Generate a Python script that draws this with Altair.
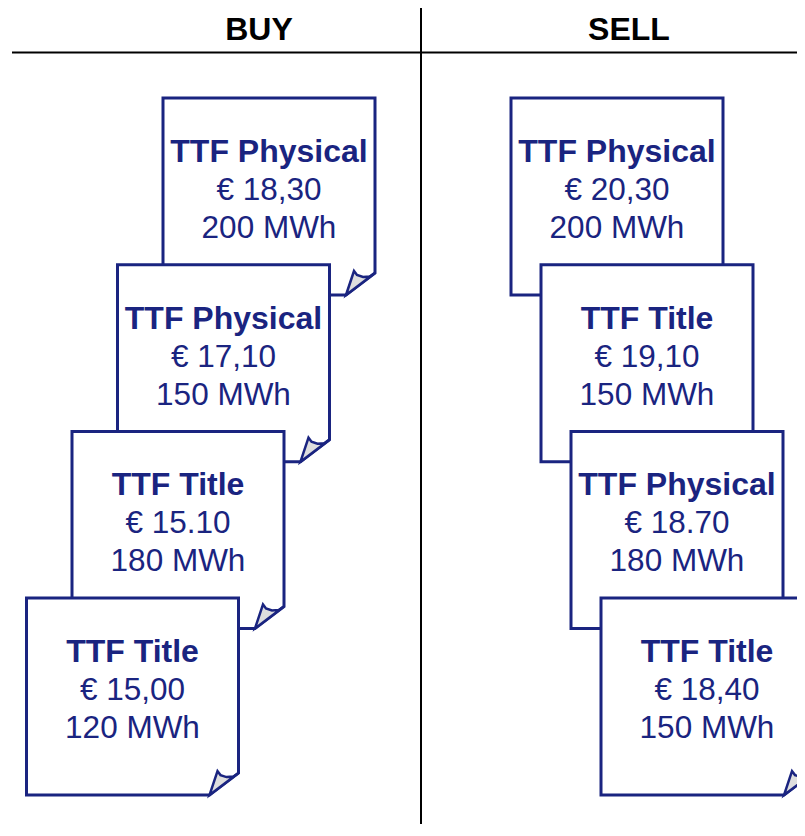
import altair as alt
import pandas as pd

# ---- data ----
sides = ["BUY", "SELL"]
buy_products = ["TTF Physical", "TTF Physical", "TTF Title", "TTF Title"]
buy_prices = ["€ 18,30", "€ 17,10", "€ 15.10", "€ 15,00"]
buy_volumes = ["200 MWh", "150 MWh", "180 MWh", "120 MWh"]
sell_products = ["TTF Physical", "TTF Title", "TTF Physical", "TTF Title"]
sell_prices = ["€ 20,30", "€ 19,10", "€ 18.70", "€ 18,40"]
sell_volumes = ["200 MWh", "150 MWh", "180 MWh", "150 MWh"]

# ---- layout (pixel space of the page) ----
NAVY = "#1a2480"
FONT = "Liberation Sans"
W, H = 789, 816
CARD_W, CARD_H = 212, 197
CUT_X, CUT_Y = 29, 22
ROW_DY = 166.7
layout = {
    "BUY": dict(left=163, top=98, dx=-45.5),
    "SELL": dict(left=511, top=98, dx=30.0),
}

xs = alt.Scale(domain=[8, 8 + W], range=[0, W])
ys = alt.Scale(domain=[8, 8 + H], range=[0, H])


def poly_layer(pts, fill, sw):
    df = pd.DataFrame({"x": [p[0] for p in pts], "y": [p[1] for p in pts],
                       "o": list(range(len(pts)))})
    return alt.Chart(df).mark_line(
        interpolate="linear-closed", fill=fill, stroke=NAVY, strokeWidth=sw,
        strokeJoin="miter", clip=True
    ).encode(
        x=alt.X("x:Q", scale=xs, axis=None),
        y=alt.Y("y:Q", scale=ys, axis=None),
        order="o:Q",
    )


layers = []
texts = []
cards = {
    "BUY": (buy_products, buy_prices, buy_volumes),
    "SELL": (sell_products, sell_prices, sell_volumes),
}
for side in sides:
    prods, prices, vols = cards[side]
    lay = layout[side]
    for i in range(len(prods)):
        L = lay["left"] + i * lay["dx"]
        T = lay["top"] + i * ROW_DY
        R, B = L + CARD_W, T + CARD_H
        body = [(L, T), (R, T), (R, B - CUT_Y), (R - CUT_X, B), (L, B)]
        fold = [(R - CUT_X, B), (R - 21, B - 24), (R - 18, B - 20),
                (R - 12, B - 18), (R - 5, B - 18.5), (R, B - CUT_Y)]
        layers.append(poly_layer(body, "white", 3))
        layers.append(poly_layer(fold, "#dedede", 2.5))
        cx = L + CARD_W / 2
        texts.append(dict(x=cx, y=T + 64, t=prods[i], w="bold"))
        texts.append(dict(x=cx, y=T + 102, t=prices[i], w="normal"))
        texts.append(dict(x=cx, y=T + 140, t=vols[i], w="normal"))

tdf = pd.DataFrame(texts)
for wt, fs in [("bold", 32), ("normal", 31.5)]:
    layers.append(
        alt.Chart(tdf[tdf.w == wt]).mark_text(
            font=FONT, fontSize=fs, fontWeight=wt, color=NAVY,
            align="center", baseline="alphabetic", clip=True
        ).encode(
            x=alt.X("x:Q", scale=xs, axis=None),
            y=alt.Y("y:Q", scale=ys, axis=None),
            text="t:N",
        )
    )

# headers
hdf = pd.DataFrame({"x": [259, 629], "y": [39.5, 39.5], "t": sides})
layers.append(
    alt.Chart(hdf).mark_text(
        font=FONT, fontSize=32, fontWeight="bold", color="black",
        align="center", baseline="alphabetic"
    ).encode(
        x=alt.X("x:Q", scale=xs, axis=None),
        y=alt.Y("y:Q", scale=ys, axis=None),
        text="t:N",
    )
)

# divider lines
hl = pd.DataFrame({"x": [12], "x2": [8 + W], "y": [52.5]})
layers.append(
    alt.Chart(hl).mark_rule(color="black", strokeWidth=2).encode(
        x=alt.X("x:Q", scale=xs, axis=None), x2="x2:Q",
        y=alt.Y("y:Q", scale=ys, axis=None),
    )
)
vl = pd.DataFrame({"x": [421], "y": [8], "y2": [8 + H]})
layers.append(
    alt.Chart(vl).mark_rule(color="black", strokeWidth=2).encode(
        x=alt.X("x:Q", scale=xs, axis=None),
        y=alt.Y("y:Q", scale=ys, axis=None), y2="y2:Q",
    )
)

chart = alt.layer(*layers).properties(
    width=W, height=H, padding=0, autosize=alt.AutoSizeParams(type="none")
).configure_view(stroke=None)

chart.save("out.html", embed_options={"renderer": "svg", "actions": False})
